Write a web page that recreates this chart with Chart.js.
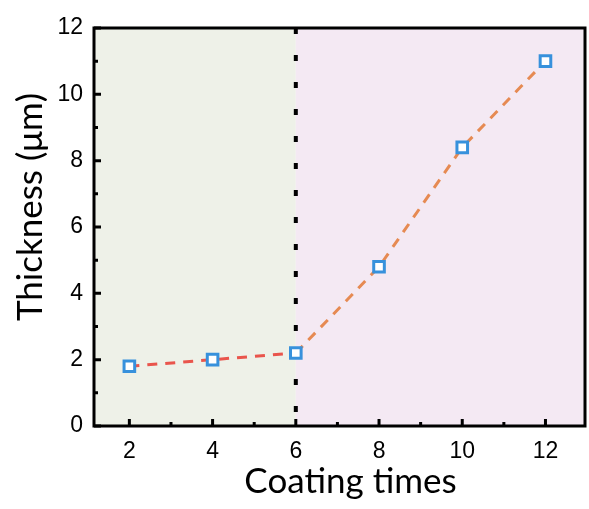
<!DOCTYPE html>
<html>
<head>
<meta charset="utf-8">
<script src="https://cdn.jsdelivr.net/npm/chart.js@4.4.1/dist/chart.umd.min.js"></script>
<style>
  html, body { margin: 0; padding: 0; background: #ffffff; }
  #wrap { width: 589px; height: 509px; }
</style>
</head>
<body>
<div id="wrap"><canvas id="thicknessCanvas" width="589" height="509"></canvas></div>
<script>
// values
const coatingTimes = [2, 4, 6, 8, 10, 12];
const thickness = [1.8, 2.0, 2.2, 4.8, 8.4, 11.0];
const splitTime = 6;
const xTickLabels = [2, 4, 6, 8, 10, 12];
const yTickLabels = [0, 2, 4, 6, 8, 10, 12];
const xRange = [1.15, 12.95];
const yRange = [0, 12];
const xTitle = "Coating times";
const yTitle = "Thickness (μm)";

const points = coatingTimes.map((t, i) => ({ x: t, y: thickness[i] }));
const splitLine = [{ x: splitTime, y: yRange[0] }, { x: splitTime, y: yRange[1] }];

// shaded regions on both sides of the split
const regionPlugin = {
    id: "regions",
    beforeDatasetsDraw(chart) {
        const { ctx, chartArea, scales } = chart;
        const xs = scales.x.getPixelForValue(splitTime);
        ctx.save();
        ctx.fillStyle = "#eef1e8";
        ctx.fillRect(chartArea.left, chartArea.top, xs - chartArea.left, chartArea.bottom - chartArea.top);
        ctx.fillStyle = "#f4e9f3";
        ctx.fillRect(xs, chartArea.top, chartArea.right - xs, chartArea.bottom - chartArea.top);
        ctx.restore();
    }
};

// frame, inward ticks (major on labelled values, minor in between) and axis titles
const framePlugin = {
    id: "frame",
    afterDatasetsDraw(chart) {
        const { ctx, chartArea, scales } = chart;
        ctx.save();
        ctx.strokeStyle = "#000000";
        ctx.lineWidth = 3;
        ctx.beginPath();
        for (let v = Math.ceil(xRange[0]); v <= xRange[1]; v++) {
            const px = scales.x.getPixelForValue(v);
            const len = xTickLabels.includes(v) ? 7 : 4;
            ctx.moveTo(px, chartArea.bottom);
            ctx.lineTo(px, chartArea.bottom - len);
        }
        for (let v = yRange[0]; v <= yRange[1]; v++) {
            const py = scales.y.getPixelForValue(v);
            const len = yTickLabels.includes(v) ? 7 : 4;
            ctx.moveTo(chartArea.left, py);
            ctx.lineTo(chartArea.left + len, py);
        }
        ctx.stroke();
        ctx.strokeRect(chartArea.left, chartArea.top, chartArea.right - chartArea.left, chartArea.bottom - chartArea.top);

        // axis titles, placed a little off-centre like the original figure
        ctx.fillStyle = "#000000";
        ctx.textAlign = "center";
        ctx.textBaseline = "alphabetic";
        ctx.font = "35px Lato";
        ctx.fillText(xTitle, (chartArea.left + chartArea.right) / 2 + 11, 493);
        ctx.translate(42, (chartArea.top + chartArea.bottom) / 2 - 20);
        ctx.rotate(-Math.PI / 2);
        ctx.fillText(yTitle, 0, 0);
        ctx.restore();
    }
};

const chart = new Chart(document.getElementById("thicknessCanvas"), {
    type: "scatter",
    data: {
        datasets: [
            {
                label: "Thickness",
                data: points,
                showLine: true,
                borderWidth: 3,
                borderDash: [10, 8],
                segment: {
                    borderColor: ctx => ctx.p0.parsed.x < splitTime ? "#e9554c" : "#e68a52"
                },
                pointStyle: "rect",
                pointRadius: 7.5,
                pointHoverRadius: 7.5,
                pointBorderWidth: 3,
                pointBorderColor: "#3791dc",
                pointBackgroundColor: "#ffffff",
                order: 1
            },
            {
                label: "split",
                data: splitLine,
                showLine: true,
                borderColor: "#000000",
                borderWidth: 4,
                borderDash: [6, 21],
                borderDashOffset: -14,
                pointRadius: 0,
                order: 2
            }
        ]
    },
    options: {
        responsive: false,
        animation: false,
        events: [],
        layout: {
            autoPadding: false,
            padding: { left: 0, right: 4, top: 28, bottom: 0 }
        },
        plugins: {
            legend: { display: false },
            tooltip: { enabled: false }
        },
        scales: {
            x: {
                type: "linear",
                min: xRange[0],
                max: xRange[1],
                afterBuildTicks: scale => {
                    scale.ticks = xTickLabels.map(v => ({ value: v }));
                },
                afterFit: scale => {
                    scale.height = 83;
                    scale.paddingLeft = 0;
                    scale.paddingRight = 0;
                },
                grid: { display: false, drawTicks: false, tickLength: 0 },
                border: { display: false },
                ticks: {
                    color: "#000000",
                    padding: 12,
                    font: { family: "Liberation Sans", size: 23 }
                }
            },
            y: {
                min: yRange[0],
                max: yRange[1],
                afterBuildTicks: scale => {
                    scale.ticks = yTickLabels.map(v => ({ value: v }));
                },
                afterFit: scale => { scale.width = 94; },
                grid: { display: false, drawTicks: false, tickLength: 0 },
                border: { display: false },
                ticks: {
                    color: "#000000",
                    padding: 11,
                    font: { family: "Liberation Sans", size: 23 }
                }
            }
        }
    },
    plugins: [regionPlugin, framePlugin]
});
</script>
</body>
</html>
